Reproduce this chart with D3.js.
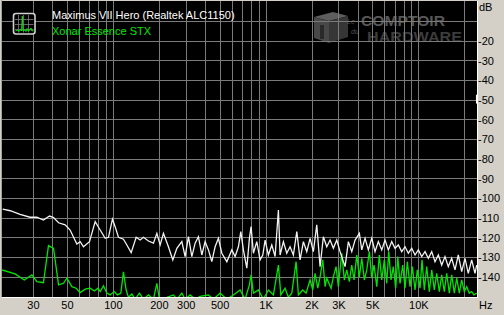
<!DOCTYPE html>
<html><head><meta charset="utf-8">
<script src="https://cdn.jsdelivr.net/npm/d3@7/dist/d3.min.js"></script>
<style>
html,body{margin:0;padding:0;background:#d4d0c8;}
svg{display:block;}
text{font-family:"Liberation Sans",Arial,sans-serif;}
</style></head>
<body>
<svg id="c" width="504" height="315"></svg>
<script>
// ---- data ----
const seriesNames = ["Maximus VII Hero (Realtek ALC1150)", "Xonar Essence STX"];
const whiteFreq = [19,21.3,24.7,28.7,31.8,35.1,38.5,40.9,44.1,48.7,52.5,58.1,61.1,64.2,70.3,76.6,82.6,89.1,93.6,99.4,103.5,108.8,117.3,123.5,131.8,142.1,150.9,158.6,171,184.4,194.1,204,214.4,231.1,247,262.4,282.9,297.3,312.5,328.9,345.6,363.3,382.4,401.8,422.4,444.5,467.2,491.1,516.9,557.5,600.9,631.6,663.7,688.2,715.6,753.4,783.4,803.6,832.1,875.8,920.4,958.7,992.5,1043,1098,1154,1213,1244,1308,1376,1446,1520,1601,1682,1768,1860,1956,2055,2163,2274,2389,2515,2643,2778,2924,3073,3314,3483,3666,3853,4111,4262,4479,4708,4955,5207,5473,5760,6054,6363,6697,7038,7398,7786,8184,8602,9053,9515,10000,10527,11064,11629,12237,12862,13518,14226,14952,15715,16538,17382,18269,19224,20205,21237,22350,23496,24110];
const whiteDb = [-105.7,-106.5,-108.3,-109.8,-109.8,-111.2,-109.2,-110,-112.6,-113.7,-116.3,-123.4,-122.2,-124.8,-122.2,-112,-116.3,-120.5,-120,-110.8,-114.6,-120,-121,-123.9,-127.8,-120,-121.4,-120,-121.9,-123,-118,-123.9,-118,-124.8,-131.5,-125.6,-122.2,-129.8,-119.7,-129.8,-123,-119.7,-129,-122.2,-126.4,-132.4,-124.8,-120.5,-128.1,-132.4,-126.4,-129.8,-124.8,-117.1,-126.4,-135.7,-120.5,-114.6,-128.1,-122.2,-131.5,-129,-121.4,-129,-123.9,-129.8,-106.1,-129,-122.2,-128.1,-124.8,-129,-117.1,-131.5,-122.2,-127.3,-120.5,-127.3,-113.7,-134.9,-119.7,-124.8,-121.4,-125.6,-121.4,-127.3,-134.9,-122.2,-127.3,-121.4,-118,-126.4,-120.5,-126.4,-120.5,-127.3,-122.2,-126.4,-121.4,-126.4,-122.2,-125.6,-123.9,-127.3,-124.8,-128.1,-125.6,-129,-126.4,-129.8,-127.3,-130.7,-127.3,-132.4,-129,-134.1,-129.8,-134.9,-130.7,-136.6,-129,-137.5,-130.7,-138.3,-131.5,-138.3,-134.1];
const greenFreq = [18.8,22.9,26.3,29.5,31.8,35.1,37.9,40.9,44.1,47.5,50,53.9,57.5,61.1,65.9,71,75.8,79.8,82.6,86.8,91.4,96,102,107.2,112.8,117.3,122.2,126.5,133.2,139.9,149.3,158.6,171,184.4,194.1,201.8,225.6,249.3,262.4,282.9,297.3,320.6,345.6,372.8,422.4,455.4,503.9,557.5,615.5,680.9,734.3,783.4,803.6,832,897.4,967.4,1043,1125,1213,1258,1341,1410,1484,1584,1639,1752,1841,1956,2037,2109,2196,2274,2368,2452,2515,2684,2778,2893,2995,3152,3279,3400,3535,3666,3795,3953,4111,4262,4432,4596,4780,4955,5130,5343,5556,5760,5990,6211,6401,6626,6861,7113,7331,7590,7904,8184,8472,8824,9135,9515,9851,10259,10573,10946,11350,11803,12237,12726,13195,13722,14226,14795,15342,15956,16538,17202,17836,18549,19224,20002,20738,21567,22350,23144,24110];
const greenDb = [-136.6,-138.6,-141.7,-139.1,-142.5,-143.1,-124.2,-125.6,-144.2,-143.4,-140.8,-145.1,-145.9,-148.1,-146.4,-145.9,-147.3,-145.9,-147.6,-144.7,-148.4,-149.3,-147.6,-149.3,-148.4,-137.6,-146.8,-150.5,-148.8,-151.5,-148.4,-151.5,-149.3,-151.5,-143.4,-151.5,-150.5,-149.3,-151.5,-148.4,-151.5,-149.3,-151.5,-150,-149.3,-151.5,-148.4,-151.5,-149.3,-146.8,-151.5,-144.2,-139.1,-148.4,-146.8,-151.5,-146.8,-149.3,-134.1,-149.3,-145.9,-150.5,-148.4,-132.4,-149.3,-146.8,-148.4,-141.7,-146.8,-138.3,-145.9,-140.1,-131.5,-145.1,-140.8,-145.9,-140.1,-134.9,-145.1,-128.1,-141.7,-136.6,-142.5,-134.1,-141.7,-129,-140.1,-130.7,-141.7,-136.6,-127.3,-140.8,-134.1,-145.1,-129,-141.7,-131.5,-143.4,-127.3,-141.7,-134.9,-145.9,-129.8,-143.4,-134.1,-145.9,-132.4,-145.1,-134.9,-146.8,-136.6,-145.9,-131.5,-146.8,-134.9,-147.6,-136.6,-146.8,-138.3,-147.6,-139.1,-147.6,-138.3,-148.4,-139.1,-148.4,-140.8,-148.4,-141.7,-147.6,-145.1,-148.4,-147.6,-149.3,-148.4];
const freqDomain = [18.8, 24110];
const dbDomain = [0, -150];
const gridFreqs = [30,40,50,60,70,80,90,100,200,300,400,500,600,700,800,900,1000,2000,3000,4000,5000,6000,7000,8000,9000,10000,20000];
const gridDb = [-10,-20,-30,-40,-50,-60,-70,-80,-90,-100,-110,-120,-130,-140];
const xTickValues = [30,50,100,200,300,500,1000,2000,3000,5000,10000];
const xTickLabels = ["30","50","100","200","300","500","1K","2K","3K","5K","10K"];
const yTickValues = [-20,-30,-40,-50,-60,-70,-80,-90,-100,-110,-120,-130,-140];

// ---- layout ----
const P = {l:2, t:1, r:477, b:297};
const svg = d3.select("#c");
const x = d3.scaleLog().domain(freqDomain).range([P.l, 476.7]);
const y = d3.scaleLinear().domain(dbDomain).range([1.3, 296.3]);

svg.append("rect").attr("width",504).attr("height",315).attr("fill","#d4d0c8");
svg.append("rect").attr("x",P.l).attr("y",P.t).attr("width",P.r-P.l).attr("height",P.b-P.t).attr("fill","#000");
svg.append("defs").append("clipPath").attr("id","clip")
  .append("rect").attr("x",P.l).attr("y",P.t).attr("width",P.r-P.l).attr("height",P.b-P.t);

// watermark
const wm = svg.append("g");
wm.append("polygon").attr("points","314,17 333,12 348,16 329,21").attr("fill","#5e5e5e");
wm.append("polygon").attr("points","314,17 329,21 329,43 314,38").attr("fill","#484848");
wm.append("polygon").attr("points","329,21 348,16 348,37 329,43").attr("fill","#363636");
wm.append("rect").attr("x",320).attr("y",25).attr("width",4).attr("height",14).attr("fill","#2a2a2a");
wm.append("text").attr("x",361).attr("y",25.5).attr("font-size",14).attr("font-weight","bold").attr("fill","#575757")
  .attr("textLength",84).attr("lengthAdjust","spacingAndGlyphs").text("COMPTOIR");
wm.append("text").attr("x",367).attr("y",41.5).attr("font-size",14).attr("font-weight","bold").attr("fill","#3c3c3c")
  .attr("textLength",95).attr("lengthAdjust","spacingAndGlyphs").text("HARDWARE");
wm.append("text").attr("x",347).attr("y",24).attr("font-size",7).attr("font-style","italic").attr("fill","#505050").text("Le");
wm.append("text").attr("x",351).attr("y",34).attr("font-size",7).attr("font-style","italic").attr("fill","#505050").text("du");

// grid
const grid = svg.append("g").attr("stroke","#7b7b7b").attr("stroke-width",1).attr("shape-rendering","crispEdges");
grid.selectAll("line.v").data(gridFreqs).join("line").attr("class","v")
  .attr("x1",d=>Math.round(x(d))+0.5).attr("x2",d=>Math.round(x(d))+0.5).attr("y1",P.t).attr("y2",P.b);
grid.selectAll("line.h").data(gridDb).join("line").attr("class","h")
  .attr("y1",d=>Math.round(y(d))+0.5).attr("y2",d=>Math.round(y(d))+0.5).attr("x1",P.l).attr("x2",P.r);

// series
const line = d3.line().x(d=>x(d[0])).y(d=>y(d[1]));
const g = svg.append("g").attr("clip-path","url(#clip)");
g.append("path").datum(d3.zip(greenFreq, greenDb)).attr("d", line)
  .attr("fill","none").attr("stroke","#00e600").attr("stroke-width",1.3).attr("stroke-linejoin","miter");
g.append("path").datum(d3.zip(whiteFreq, whiteDb)).attr("d", line)
  .attr("fill","none").attr("stroke","#f2f2f2").attr("stroke-width",1.3).attr("stroke-linejoin","miter");

// frame
svg.append("line").attr("x1",P.l-0.5).attr("x2",P.l-0.5).attr("y1",0).attr("y2",P.b).attr("stroke","#a0a0a0");
svg.append("line").attr("x1",P.r+0.5).attr("x2",P.r+0.5).attr("y1",P.t).attr("y2",P.b+1).attr("stroke","#ffffff");
svg.append("line").attr("x1",P.l).attr("x2",P.r+1).attr("y1",P.b+0.5).attr("y2",P.b+0.5).attr("stroke","#ffffff");
svg.append("line").attr("x1",P.r-0.3).attr("x2",P.r-0.3).attr("y1",y(-47.5)).attr("y2",y(-52)).attr("stroke","#ffffff").attr("stroke-width",1.5);

// axes
const yAxis = d3.axisRight(y).tickValues(yTickValues).tickSize(0).tickPadding(0).tickFormat(d=>String(d));
const ya = svg.append("g").attr("transform",`translate(${P.r+1},0)`).call(yAxis);
ya.select(".domain").remove();
ya.selectAll("text").attr("font-size",11).attr("fill","#000").attr("font-family","Liberation Sans, Arial, sans-serif").attr("dy","0.36em");
svg.append("text").attr("x",479).attr("y",11).attr("font-size",11).attr("fill","#000").text("dB");

const xAxis = d3.axisBottom(x).tickValues(xTickValues).tickSize(0).tickPadding(0)
  .tickFormat((d,i)=>xTickLabels[i]);
const xa = svg.append("g").attr("transform",`translate(0,${P.b})`).call(xAxis);
xa.select(".domain").remove();
xa.selectAll("text").attr("font-size",11).attr("fill","#000").attr("font-family","Liberation Sans, Arial, sans-serif").attr("dy","0").attr("y",12);
svg.append("text").attr("x",479).attr("y",309).attr("font-size",11).attr("fill","#000").text("Hz");

// legend
const lg = svg.append("g");
lg.append("rect").attr("x",13.5).attr("y",13.5).attr("width",21.5).attr("height",20.5).attr("rx",2.5)
  .attr("fill","#000").attr("stroke","#d0d0d0").attr("stroke-width",1.6);
[18,23,28].forEach(v=>{
  lg.append("line").attr("x1",v+0.5).attr("x2",v+0.5).attr("y1",15).attr("y2",32.5).attr("stroke","#808080").attr("stroke-width",0.8);
});
[19,24,29].forEach(v=>{
  lg.append("line").attr("y1",v+0.5).attr("y2",v+0.5).attr("x1",15).attr("x2",33.5).attr("stroke","#808080").attr("stroke-width",0.8);
});
lg.append("path").attr("d","M15.5,31 L18,30 L19,31.5 L20.5,29.5 L21.5,31 L22.3,16 L23,31 L25,30 L26,31.5 L27,28.5 L28,31 L30,30 L31,28 L32,31 L33.5,30.5")
  .attr("fill","none").attr("stroke","#00e600").attr("stroke-width",1);
lg.append("text").attr("x",52).attr("y",19).attr("font-size",11).attr("fill","#ffffff").text(seriesNames[0]);
lg.append("text").attr("x",52).attr("y",34.5).attr("font-size",11).attr("fill","#00e600").text(seriesNames[1]);
</script>
</body></html>
